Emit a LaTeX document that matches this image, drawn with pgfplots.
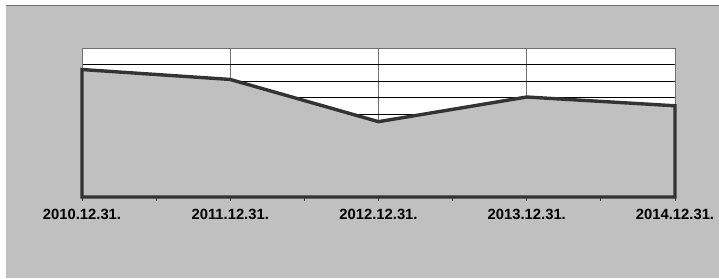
\documentclass[border=0pt]{standalone}
\usepackage{pgfplots}
\pgfplotsset{compat=1.18}
\usepackage{fontspec}
\setmainfont{Liberation Sans}
\definecolor{bggray}{HTML}{C0C0C0}
\definecolor{linedark}{HTML}{333333}
\definecolor{gridgray}{HTML}{707070}
\begin{document}
\begin{tikzpicture}[x=1bp,y=1bp]
\useasboundingbox (0,0) rectangle (719,278);
\fill[white] (0,0) rectangle (719,278);
\fill[bggray] (6,0) rectangle (719,272);
\draw[gridgray, line width=1bp] (6,272) -- (719,272);
\begin{axis}[
  at={(82bp,81bp)}, anchor=south west,
  scale only axis, width=593bp, height=149bp,
  xmin=0, xmax=4, ymin=0, ymax=9,
  axis background/.style={fill=white},
  axis line style={gridgray, line width=0.8bp},
  xtick={0,1,2,3,4},
  xticklabels={2010.12.31.,2011.12.31.,2012.12.31.,2013.12.31.,2014.12.31.},
  minor xtick={0.5,1.5,2.5,3.5},
  ytick={1,2,3,4,5,6,7,8},
  yticklabels={},
  ymajorgrids, xmajorgrids,
  y grid style={black, line width=0.7bp},
  x grid style={gridgray, line width=0.7bp},
  xtick pos=bottom, ytick pos=left,
  tick align=outside,
  major tick length=4bp, minor tick length=4bp,
  major y tick style={draw=none},
  x tick style={linedark, line width=0.8bp},
  xticklabel style={font=\fontsize{14.8bp}{16bp}\selectfont\bfseries, yshift=-5bp},
  clip=false,
]
\addplot[fill=bggray, draw=linedark, line width=3.4bp, line join=miter] coordinates {
  (0,7.70) (1,7.10) (2,4.55) (3,6.04) (4,5.51)
} \closedcycle;
\end{axis}
\end{tikzpicture}
\end{document}
